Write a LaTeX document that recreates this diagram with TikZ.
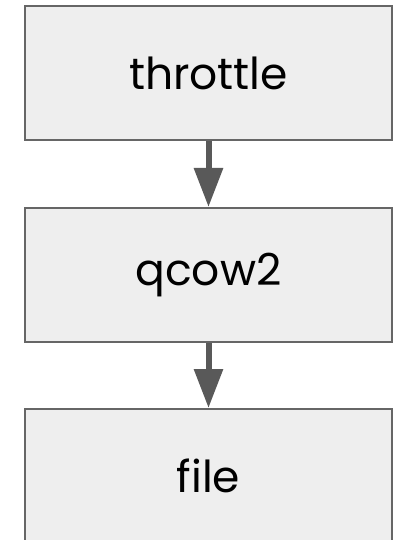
\documentclass[tikz,border=0pt]{standalone}
\usepackage{fontspec}
\setmainfont{Poppins}
\usetikzlibrary{arrows.meta}
\definecolor{boxfill}{HTML}{EEEEEE}
\definecolor{boxline}{HTML}{666666}
\definecolor{arrowc}{HTML}{595959}
\tikzset{
  layer/.style={draw=boxline, line width=2pt, fill=boxfill, minimum width=367pt, minimum height=134pt, inner sep=0pt, font=\fontsize{44}{52}\selectfont, anchor=north},
  link/.style={draw=arrowc, line width=6pt, -{Triangle[width=28pt,length=39pt]}}
}
\begin{document}
\begin{tikzpicture}[x=1pt,y=-1pt]
\useasboundingbox (0,0) rectangle (401,540);
\node[layer] (throttle) at (208.5,5) {throttle};
\node[layer] (qcow) at (208.5,207) {qcow2};
\node[layer] (file) at (208.5,408) {file};
\draw[link] (throttle.south) -- (qcow.north);
\draw[link] (qcow.south) -- (file.north);
\end{tikzpicture}
\end{document}
